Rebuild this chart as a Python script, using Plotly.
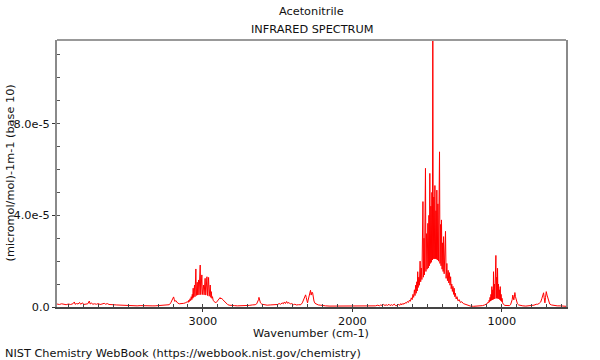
import plotly.graph_objects as go

# ---- data (wavenumber in cm-1, absorbance in units of 1e-6 (micromol/mol)-1 m-1) ----
wn_high = [3976, 3960, 3945, 3930, 3915, 3900, 3885, 3870, 3860, 3855, 3845, 3835, 3825, 3818,
           3805, 3798, 3785, 3770, 3760, 3754, 3745, 3738, 3725, 3712, 3700, 3688, 3675, 3660,
           3650, 3640, 3628, 3615, 3600, 3580, 3560, 3540, 3520, 3500, 3480, 3460, 3440, 3420,
           3400, 3380, 3360, 3340, 3320, 3300, 3280, 3260, 3240, 3225, 3215, 3207, 3200]
ab_high = [1.3, 1.1, 1.4, 1.2, 1.0, 1.3, 1.1, 1.4, 2.2, 1.2, 1.5, 1.3, 2.0, 1.2,
           1.8, 1.1, 1.2, 1.4, 2.6, 1.3, 1.8, 1.2, 1.4, 1.2, 1.5, 1.1, 1.3, 1.6,
           1.2, 1.5, 1.1, 1.2, 1.0, 0.9, 0.8, 0.9, 0.7, 0.7, 0.6, 0.6, 0.5, 0.6,
           0.5, 0.6, 0.5, 0.5, 0.5, 0.6, 0.5, 0.6, 0.7, 1.0, 1.8, 3.0, 4.0]

wn_ch = [3196, 3192, 3187, 3182, 3176, 3168, 3158, 3148, 3138, 3128, 3118, 3110, 3104, 3098,
         3094, 3090, 3086, 3082, 3078, 3074, 3071, 3068, 3065, 3062, 3059, 3056, 3053, 3050,
         3047, 3044, 3041, 3038, 3035, 3032, 3029, 3026, 3022, 3018, 3015, 3011, 3007, 3004,
         3000, 2995, 2992, 2988, 2985, 2981, 2977, 2973, 2969, 2966, 2962, 2958, 2954, 2951,
         2947, 2944, 2940, 2936, 2931, 2925, 2918, 2910, 2902, 2895, 2889, 2885, 2880, 2876,
         2870, 2862, 2853, 2845, 2835, 2825, 2810, 2790]
ab_ch = [4.4, 3.4, 2.4, 2.8, 2.3, 1.7, 1.4, 1.4, 1.5, 1.6, 1.8, 1.9, 2.3, 2.0,
         3.0, 2.4, 3.6, 2.8, 4.5, 3.2, 5.5, 3.8, 8.2, 4.2, 7.0, 9.6, 4.5, 11.0,
         16.6, 5.0, 9.0, 10.8, 5.2, 8.5, 11.8, 5.3, 10.0, 18.3, 5.4, 9.0, 14.0, 5.4,
         8.0, 9.6, 5.3, 8.8, 12.5, 5.2, 8.0, 13.2, 5.0, 9.0, 12.9, 4.7, 7.5, 9.6,
         4.2, 6.7, 3.8, 4.5, 2.8, 2.3, 2.0, 2.0, 2.6, 3.2, 3.8, 4.1, 3.5, 3.9,
         3.4, 2.8, 2.3, 1.6, 1.1, 0.8, 0.6, 0.6]

wn_mid = [2770, 2740, 2710, 2690, 2670, 2650, 2640, 2633, 2628, 2625, 2621, 2615, 2605, 2590,
          2570, 2550, 2530, 2515, 2500, 2490, 2480, 2470, 2462, 2455, 2448, 2440, 2433, 2425,
          2415, 2405, 2395, 2385, 2375, 2360, 2345, 2335, 2325, 2318, 2313, 2309, 2304, 2300,
          2296, 2290, 2285, 2280, 2276, 2270, 2266, 2262, 2257, 2250, 2240, 2228, 2215]
ab_mid = [0.5, 0.5, 0.6, 0.7, 0.9, 1.0, 1.4, 2.2, 3.2, 4.2, 3.0, 1.8, 1.2, 0.9,
          0.8, 0.9, 1.0, 1.2, 1.1, 1.5, 1.2, 1.8, 1.4, 2.2, 1.5, 2.4, 1.6, 2.0,
          1.3, 1.5, 1.0, 1.2, 0.9, 1.0, 1.0, 1.8, 3.2, 4.6, 5.3, 4.2, 2.2, 1.8,
          3.0, 4.8, 5.8, 7.3, 5.2, 6.5, 6.2, 3.8, 2.6, 1.6, 1.2, 0.9, 0.8]

wn_flat = [2200, 2180, 2150, 2120, 2090, 2060, 2030, 2000, 1970, 1940, 1910, 1880, 1860, 1845,
           1830, 1820, 1810, 1800, 1790, 1782, 1775, 1765, 1755, 1748, 1740, 1730, 1720, 1712]
ab_flat = [0.6, 0.5, 0.4, 0.4, 0.3, 0.4, 0.3, 0.4, 0.3, 0.4, 0.5, 0.4, 0.6, 0.5,
           0.8, 0.5, 0.9, 0.6, 1.1, 0.6, 1.0, 0.7, 1.2, 0.6, 1.0, 0.7, 1.3, 0.6]

wn_def = [1700, 1690, 1684, 1676, 1670, 1662, 1655, 1646, 1640, 1632, 1625, 1618, 1612, 1606,
          1600, 1595, 1590, 1585, 1581, 1577, 1573, 1569, 1566, 1563, 1560, 1556, 1552, 1547,
          1543, 1539, 1535, 1531, 1528, 1525, 1521, 1518, 1514, 1511, 1508, 1504, 1500, 1497,
          1495, 1492, 1488, 1485, 1482, 1479, 1475, 1472, 1468, 1465, 1462, 1459, 1455, 1452,
          1448, 1445, 1441, 1438, 1435, 1432, 1428, 1424, 1420, 1417, 1414, 1410, 1407, 1404,
          1400, 1396, 1393, 1390, 1386, 1381, 1377, 1373, 1368, 1364, 1359, 1355, 1351, 1347,
          1343, 1339, 1335, 1331, 1327, 1323, 1319, 1315, 1311, 1306, 1300, 1294, 1285, 1278,
          1268, 1258, 1245, 1230]
ab_def = [0.6, 1.2, 0.7, 1.5, 0.9, 1.6, 1.2, 1.9, 1.6, 2.4, 2.0, 3.0, 2.5, 4.0,
          3.2, 5.5, 4.2, 7.5, 5.0, 9.5, 6.0, 11.0, 7.0, 15.4, 8.5, 13.0, 9.5, 20.0,
          11.0, 17.0, 12.0, 24.0, 46.0, 13.0, 30.0, 14.0, 35.0, 60.5, 15.5, 32.0, 16.5, 28.0,
          36.5, 17.0, 40.0, 18.0, 58.3, 19.0, 44.0, 19.5, 50.0, 20.5, 125.0, 21.0, 48.0, 21.0,
          53.0, 21.0, 42.0, 21.0, 51.0, 20.5, 45.0, 20.0, 40.0, 67.7, 19.0, 36.0, 18.0, 38.0,
          16.5, 28.0, 15.5, 30.7, 14.5, 26.0, 33.0, 12.5, 19.0, 11.5, 16.0, 10.5, 15.0, 9.5,
          13.2, 8.0, 10.0, 6.8, 9.0, 5.5, 8.2, 4.5, 6.0, 3.5, 4.5, 2.7, 3.2, 2.0,
          2.3, 1.5, 1.2, 0.6]

wn_low = [1210, 1190, 1170, 1150, 1130, 1115, 1105, 1096, 1092, 1088, 1085, 1082, 1079, 1076,
          1073, 1070, 1067, 1064, 1061, 1058, 1056, 1053, 1050, 1047, 1044, 1042, 1040, 1037,
          1034, 1031, 1029, 1026, 1023, 1020, 1017, 1014, 1011, 1008, 1005, 1002, 999, 995,
          990, 980, 965, 950, 942, 936, 931, 927, 923, 920, 916, 913, 909, 904, 896, 888, 875,
          860, 840, 820, 800, 785, 770, 760, 750, 740, 732, 726, 721, 717, 712, 708, 703, 698,
          693, 686, 680, 668, 650, 630, 610, 590, 571]
ab_low = [0.4, 0.3, 0.3, 0.4, 0.6, 0.9, 1.3, 1.6, 2.2, 1.9, 3.0, 2.3, 4.2, 2.6,
          5.5, 2.9, 8.9, 3.1, 7.5, 3.3, 15.4, 3.5, 10.0, 3.6, 12.0, 3.7, 22.5, 3.8,
          13.0, 3.8, 16.9, 3.7, 10.0, 3.5, 7.5, 3.2, 8.9, 2.8, 5.5, 2.4, 3.8, 1.8,
          1.2, 0.7, 0.5, 0.6, 1.0, 1.8, 3.2, 5.2, 4.0, 3.1, 4.8, 6.3, 4.5, 2.6, 1.4, 0.9, 0.6,
          0.5, 0.4, 0.5, 0.6, 0.8, 1.2, 1.2, 1.6, 2.2, 3.8, 5.2, 6.2, 4.0, 1.8, 4.2, 6.7, 5.2,
          3.8, 2.2, 1.3, 0.9, 0.6, 0.5, 0.5, 0.4, 0.3]

y_tickvals = [0, 4e-5, 8e-5]
y_ticktext = ["0.0", "4.0e-5", "8.0e-5"]
x_tickvals = [3000, 2000, 1000]

wavenumber = wn_high + wn_ch + wn_mid + wn_flat + wn_def + wn_low
absorbance = [v * 1e-6 for v in (ab_high + ab_ch + ab_mid + ab_flat + ab_def + ab_low)]

FONT = "DejaVu Sans"
FS = 11.3

fig = go.Figure()
fig.add_trace(go.Scatter(x=wavenumber, y=absorbance, mode="lines",
                         line=dict(color="red", width=1), hoverinfo="skip",
                         showlegend=False))

L, R, T, B = 57, 34, 40, 53
W, H = 600, 360
pw, ph = W - L - R, H - T - B

def px(xp):
    return (xp - L) / pw

def py(yp):
    return (H - B - yp) / ph

fig.update_layout(
    width=W, height=H,
    margin=dict(l=L, r=R, t=T, b=B, pad=0),
    paper_bgcolor="white", plot_bgcolor="white",
    font=dict(family=FONT, size=FS, color="#111"),
    xaxis=dict(range=[3976, 571], autorange=False, tickvals=x_tickvals,
               ticks="outside", ticklen=3, tickcolor="#333", tickfont=dict(size=FS),
               showgrid=False, zeroline=False, showline=True, linecolor="#444",
               linewidth=1.5, mirror=False,
               minor=dict(ticks="inside", ticklen=3, dtick=100, tick0=0,
                          tickcolor="#444", showgrid=False)),
    yaxis=dict(range=[0, 1.165e-4], autorange=False, tickvals=y_tickvals,
               ticktext=y_ticktext, ticks="outside", ticklen=3, tickcolor="#333",
               tickfont=dict(size=FS), showgrid=False, zeroline=False, showline=True,
               linecolor="#8a8a8a", linewidth=2, mirror=True,
               minor=dict(ticks="inside", ticklen=3, dtick=1e-5, tick0=0,
                          tickcolor="#555", showgrid=False)),
    shapes=[dict(type="line", xref="paper", yref="paper", x0=0, x1=1, y0=1, y1=1,
                 line=dict(color="#999", width=2))],
    annotations=[
        dict(text="Acetonitrile", xref="paper", yref="paper", x=0.5, y=py(12),
             xanchor="center", yanchor="middle", showarrow=False, font=dict(size=FS)),
        dict(text="INFRARED SPECTRUM", xref="paper", yref="paper", x=0.5, y=py(30),
             xanchor="center", yanchor="middle", showarrow=False, font=dict(size=FS)),
        dict(text="Wavenumber (cm-1)", xref="paper", yref="paper", x=px(311), y=py(333),
             xanchor="center", yanchor="middle", showarrow=False, font=dict(size=FS)),
        dict(text="(micromol/mol)-1m-1 (base 10)", xref="paper", yref="paper",
             x=px(9.5), y=py(173), xanchor="center", yanchor="middle", textangle=-90,
             showarrow=False, font=dict(size=FS)),
        dict(text="NIST Chemistry WebBook (https://webbook.nist.gov/chemistry)",
             xref="paper", yref="paper", x=px(3), y=py(353), xanchor="left",
             yanchor="middle", showarrow=False, font=dict(size=FS)),
    ],
)

fig.write_html("out.html", config={"displayModeBar": False},
               post_script="document.body.style.margin='0';document.body.style.overflow='hidden';")
